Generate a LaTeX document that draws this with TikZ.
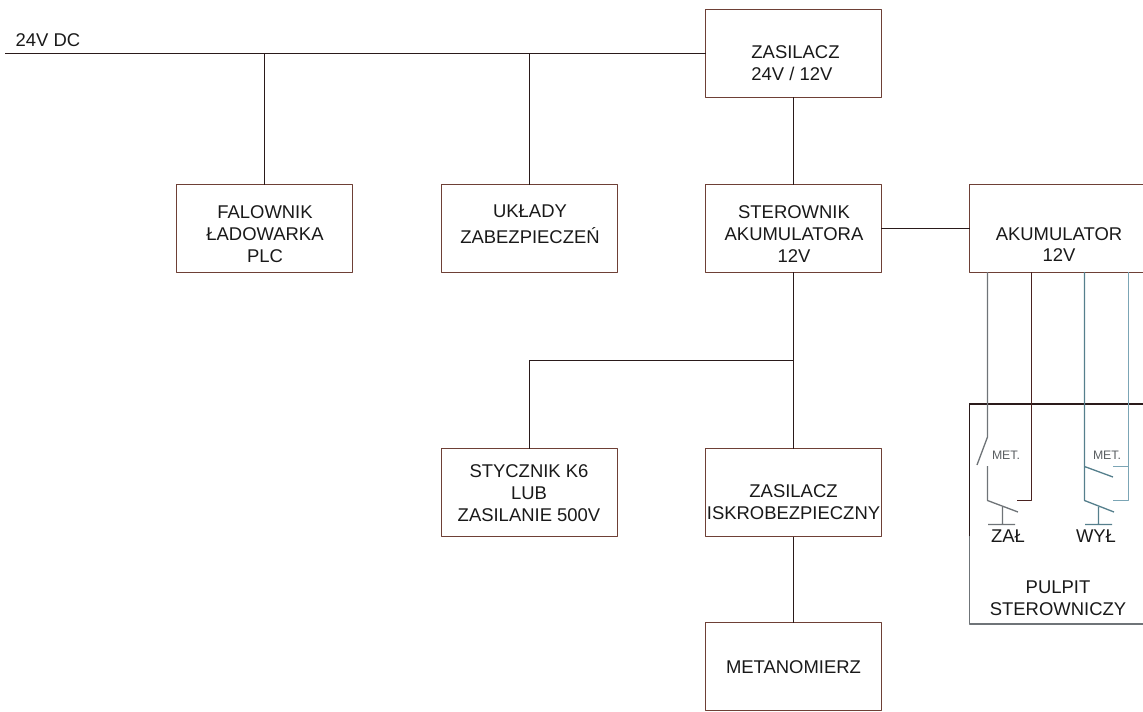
\documentclass[tikz,border=0pt]{standalone}
\usepackage{fontspec}
\setmainfont{Liberation Sans}
\definecolor{boxred}{HTML}{6E4036}
\definecolor{wiredark}{HTML}{2A1A1A}
\definecolor{wiregrey}{HTML}{6F7478}
\definecolor{wirered}{HTML}{4A2220}
\definecolor{wireteal}{HTML}{557F8C}
\definecolor{wireblue}{HTML}{7BA5B5}
\begin{document}
\begin{tikzpicture}[x=0.02cm,y=-0.02cm,line join=round,line width=0.75pt,
	block/.style={draw=boxred,minimum width=3.52cm,minimum height=1.76cm,inner sep=0pt,outer sep=0pt},
	wire/.style={draw=wiredark},
	label/.style={font=\fontsize{10.5}{12.4}\selectfont,text=black!90,align=center,inner sep=0pt},
	metlabel/.style={font=\fontsize{7}{8}\selectfont,text=wiregrey!80!black,inner sep=0pt}]
	\useasboundingbox (0,0) rectangle (1143,711);
	% bloki
	\node[block] (zasilacz) at (793.5,53.5) {};
	\node[block] (falownik) at (264.5,228.5) {};
	\node[block] (uklady) at (529.5,228.5) {};
	\node[block] (sterownik) at (793.5,228.5) {};
	\node[block] (akumulator) at (1057.5,228.5) {};
	\node[block] (stycznik) at (529.5,492.5) {};
	\node[block] (iskro) at (793.5,492.5) {};
	\node[block] (metanomierz) at (793.5,666.5) {};
	\node[block,draw=wiregrey,minimum height=4.4cm] (pulpit) at (1057.5,514) {};
	\coordinate (pulpitl) at (pulpit.west |- 0,536);
	\draw[wiredark] (pulpitl)--(pulpit.north west)--(pulpit.north east);
	% opisy
	\node[label,align=left] (zasilacztxt) at (795.5,63) {ZASILACZ\\24V / 12V};
	\node[label] (falowniktxt) at (265,234) {FALOWNIK\\ŁADOWARKA\\PLC};
	\node[label] (ukladytxt) at (530,224) {UKŁADY\\[2.3pt]ZABEZPIECZEŃ};
	\node[label] (sterowniktxt) at (794,234) {STEROWNIK\\AKUMULATORA\\12V};
	\node[label] (akumulatortxt) at (1059,244.5) {AKUMULATOR\\12V};
	\node[label] (stycznikxt) at (529,493) {STYCZNIK K6\\LUB\\ZASILANIE 500V};
	\node[label] (iskrotxt) at (793.5,502.5) {ZASILACZ\\ISKROBEZPIECZNY};
	\node[label] (metanomierztxt) at (793.5,667) {METANOMIERZ};
	\node[label,anchor=west] (dc) at (15,40) {24V DC};
	\node[label] (pulpittxt) at (1058,598) {PULPIT\\STEROWNICZY};
	\node[label] (zal) at (1008,536) {ZAŁ};
	\node[label] (wyl) at (1096,536) {WYŁ};
	\node[metlabel] (metzal) at (1006,455) {MET.};
	\node[metlabel] (metwyl) at (1107,455) {MET.};
	% szyna 24V
	\coordinate (busl) at (5,53.5);
	\draw[wire] (busl)--(zasilacz.west);
	\draw[wire] (falownik.north)--(falownik.north |- busl);
	\draw[wire] (uklady.north)--(uklady.north |- busl);
	\draw[wire] (zasilacz.south)--(sterownik.north);
	\draw[wire] (sterownik.east)--(akumulator.west);
	\draw[wire] (sterownik.south)--(iskro.north);
	\draw[wire] (iskro.south)--(metanomierz.north);
	\draw[wire] (stycznik.north)--(529.5,360.5)--(793.5,360.5);
	% ZAL
	\coordinate (za) at (987.5,272);
	\coordinate (zb) at (987.5,437);
	\coordinate (zc) at (977,465);
	\coordinate (zd) at (987.5,466);
	\coordinate (ze) at (987.5,500.5);
	\coordinate (zf) at (1018,512);
	\coordinate (zg) at (1031.5,272);
	\coordinate (zh) at (1031.5,500.5);
	\coordinate (zi) at (1017,500.5);
	\coordinate (zj) at (1002.5,507);
	\coordinate (zk) at (1002.5,524.5);
	\draw[wiregrey] (za)--(zb)--(zc) (zd)--(ze)--(zf) (zj)--(zk) (988,524.5)--(1015,524.5);
	\draw[wirered] (zg)--(zh)--(zi);
	% WYL
	\coordinate (wa) at (1084.5,272);
	\coordinate (wb) at (1084.5,466.5);
	\coordinate (wc) at (1113,477);
	\coordinate (wd) at (1084.5,500.5);
	\coordinate (we) at (1114,512);
	\coordinate (wf) at (1128.5,272);
	\coordinate (wg) at (1128.5,466.5);
	\coordinate (wh) at (1113,466.5);
	\coordinate (wi) at (1128.5,500.5);
	\coordinate (wj) at (1113,500.5);
	\coordinate (wk) at (1098.5,507);
	\coordinate (wl) at (1098.5,524.5);
	\draw[wireteal] (wa)--(wd)--(we) (wb)--(wc) (wk)--(wl) (1085,524.5)--(1112,524.5);
	\draw[wireblue] (wf)--(wi)--(wj) (wg)--(wh);
\end{tikzpicture}
\end{document}
